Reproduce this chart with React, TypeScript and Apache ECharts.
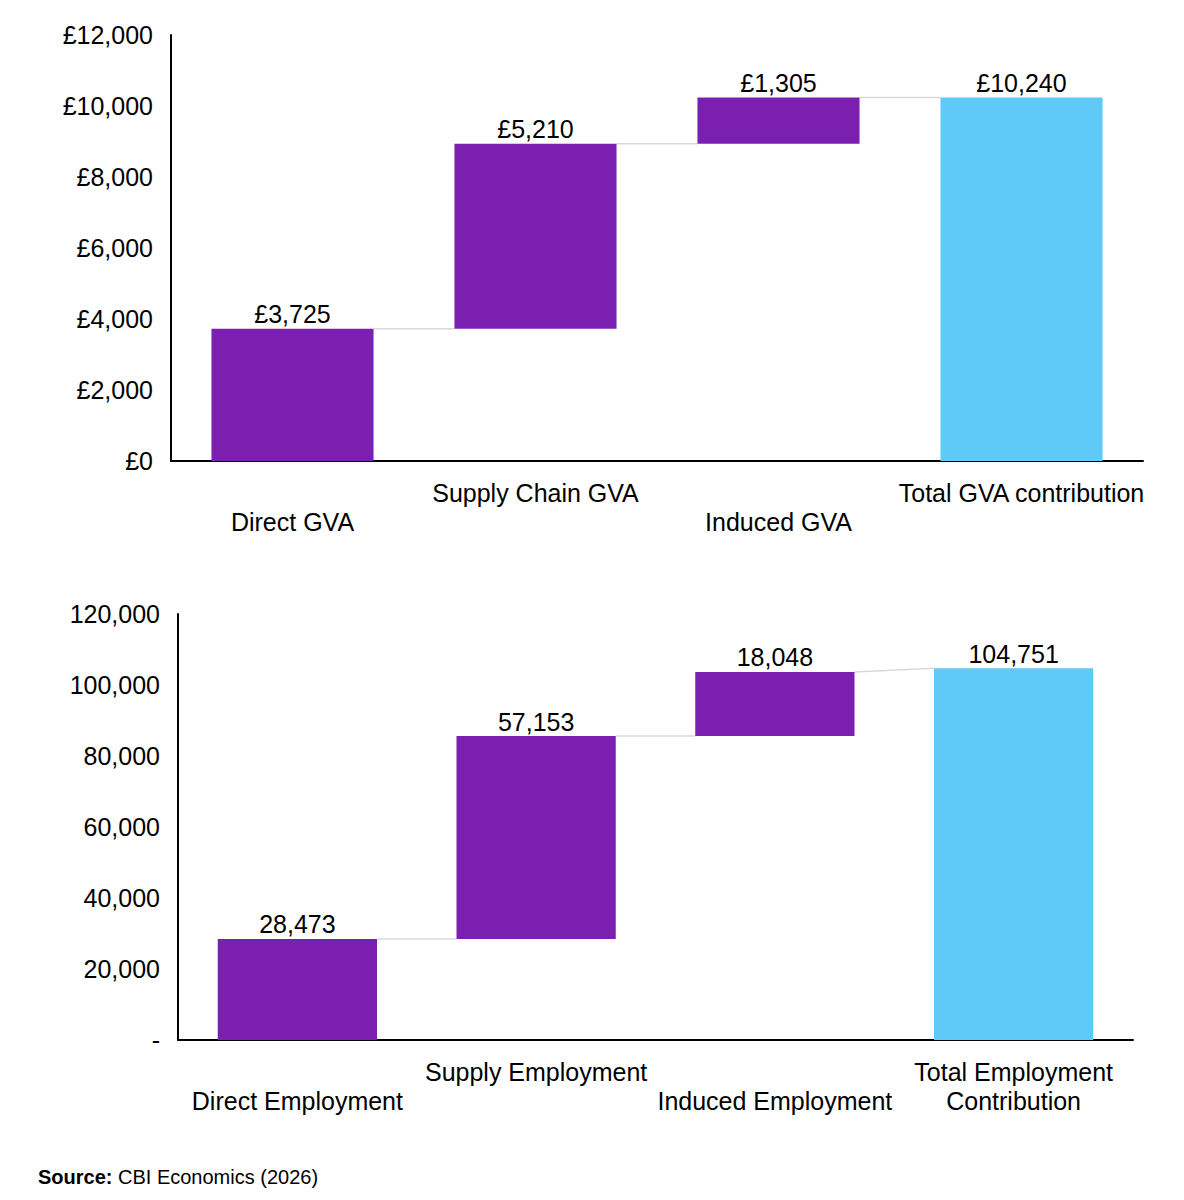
import React, { useEffect, useRef } from "react";
import * as echarts from "echarts";

// ---- Data ----
const gvaCategories = ["Direct GVA", "Supply Chain GVA", "Induced GVA", "Total GVA contribution"];
const gvaValues = [3725, 5210, 1305, 10240];
const gvaTicks = { min: 0, max: 12000, interval: 2000 };

const empCategories = ["Direct Employment", "Supply Employment", "Induced Employment", "Total Employment\nContribution"];
const empValues = [28473, 57153, 18048, 104751];
const empTicks = { min: 0, max: 120000, interval: 20000 };

const sourceLabel = "Source:";
const sourceText = "CBI Economics (2026)";

const PURPLE = "#7B1FB0";
const BLUE = "#5FC9F8";
const CONNECTOR = "#D9D9D9";
const FONT = "'Liberation Sans', Arial, Helvetica, sans-serif";
const BAR_FRAC = 0.667;

function fmt(n: number): string {
  return String(Math.round(n)).replace(/\B(?=(\d{3})+(?!\d))/g, ",");
}

// waterfall helpers: last entry is the total
function bases(values: number[]): number[] {
  const out: number[] = [];
  let acc = 0;
  values.forEach((v, i) => {
    if (i === values.length - 1) out.push(0);
    else {
      out.push(acc);
      acc += v;
    }
  });
  return out;
}
function connectors(values: number[]): number[][] {
  const b = bases(values);
  const out: number[][] = [];
  for (let i = 0; i < values.length - 1; i++) {
    const from = b[i] + values[i];
    const to = i + 1 === values.length - 1 ? values[i + 1] : b[i + 1];
    out.push([i, from, to]);
  }
  return out;
}

function connectorRender(params: any, api: any) {
  const i = api.value(0);
  const a = api.coord([i, api.value(1)]);
  const b = api.coord([i + 1, api.value(2)]);
  const w = api.size([1, 0])[0] * BAR_FRAC;
  return {
    type: "line",
    shape: { x1: a[0] + w / 2, y1: a[1], x2: b[0] - w / 2, y2: b[1] },
    style: { stroke: CONNECTOR, lineWidth: 1.5 },
  };
}

function buildSeries(values: number[], axis: number, labelFmt: (v: number) => string) {
  const base = bases(values);
  const stack = "wf" + axis;
  return [
    {
      type: "bar",
      xAxisIndex: axis,
      yAxisIndex: axis,
      stack,
      barWidth: (BAR_FRAC * 100).toFixed(1) + "%",
      data: base,
      itemStyle: { color: "transparent" },
      emphasis: { disabled: true },
      silent: true,
    },
    {
      type: "bar",
      xAxisIndex: axis,
      yAxisIndex: axis,
      stack,
      barWidth: (BAR_FRAC * 100).toFixed(1) + "%",
      data: values,
      itemStyle: {
        color: (p: any) => (p.dataIndex === values.length - 1 ? BLUE : PURPLE),
      },
      label: {
        show: true,
        position: "top",
        distance: 2,
        color: "#000",
        fontSize: 25,
        fontFamily: FONT,
        formatter: (p: any) => labelFmt(p.value),
      },
    },
    {
      type: "custom",
      xAxisIndex: axis,
      yAxisIndex: axis,
      renderItem: connectorRender,
      encode: { x: 0, y: [1, 2] },
      data: connectors(values),
      z: 1,
      silent: true,
    },
  ];
}

function xAxisCfg(cats: string[], grid: number) {
  return {
    type: "category",
    gridIndex: grid,
    data: cats,
    axisLine: { show: true, lineStyle: { color: "#000", width: 2 } },
    axisTick: { show: false },
    axisLabel: {
      interval: 0,
      hideOverlap: false,
      color: "#000",
      fontSize: 25,
      fontFamily: FONT,
      lineHeight: 29,
      margin: 17,
      formatter: (v: string, i: number) => (i % 2 === 0 ? "\n" + v : v),
    },
  };
}

function yAxisCfg(t: { min: number; max: number; interval: number }, grid: number, f: (v: number) => string, margin: number) {
  return {
    type: "value",
    gridIndex: grid,
    min: t.min,
    max: t.max,
    interval: t.interval,
    axisLine: { show: true, lineStyle: { color: "#000", width: 2 } },
    axisTick: { show: false },
    splitLine: { show: false },
    axisLabel: { color: "#000", fontSize: 25, fontFamily: FONT, margin, formatter: f },
  };
}

export default function App() {
  const ref = useRef<HTMLDivElement>(null);
  useEffect(() => {
    document.body.style.margin = "0";
    if (!ref.current) return;
    const chart = echarts.init(ref.current, undefined, { renderer: "svg" });
    chart.setOption({
      animation: false,
      backgroundColor: "#fff",
      textStyle: { fontFamily: FONT },
      grid: [
        { left: 171, top: 35, width: 972, height: 426 },
        { left: 178, top: 614, width: 955, height: 426 },
      ],
      xAxis: [xAxisCfg(gvaCategories, 0), xAxisCfg(empCategories, 1)],
      yAxis: [
        yAxisCfg(gvaTicks, 0, (v) => "£" + fmt(v), 18),
        yAxisCfg(empTicks, 1, (v) => (v === 0 ? "-" : fmt(v)), 18),
      ],
      series: [
        ...buildSeries(gvaValues, 0, (v) => "£" + fmt(v)),
        ...buildSeries(empValues, 1, (v) => fmt(v)),
      ],
      graphic: [
        {
          type: "text",
          left: 38,
          top: 1167,
          style: {
            text: "{b|" + sourceLabel + "} " + sourceText,
            fontSize: 20,
            fontFamily: FONT,
            fill: "#000",
            rich: {
              b: { fontSize: 20, fontFamily: FONT, fontWeight: "bold", fill: "#000" },
            },
          },
        },
      ],
    });
    return () => chart.dispose();
  }, []);
  return <div ref={ref} style={{ width: 1184, height: 1200 }} />;
}
